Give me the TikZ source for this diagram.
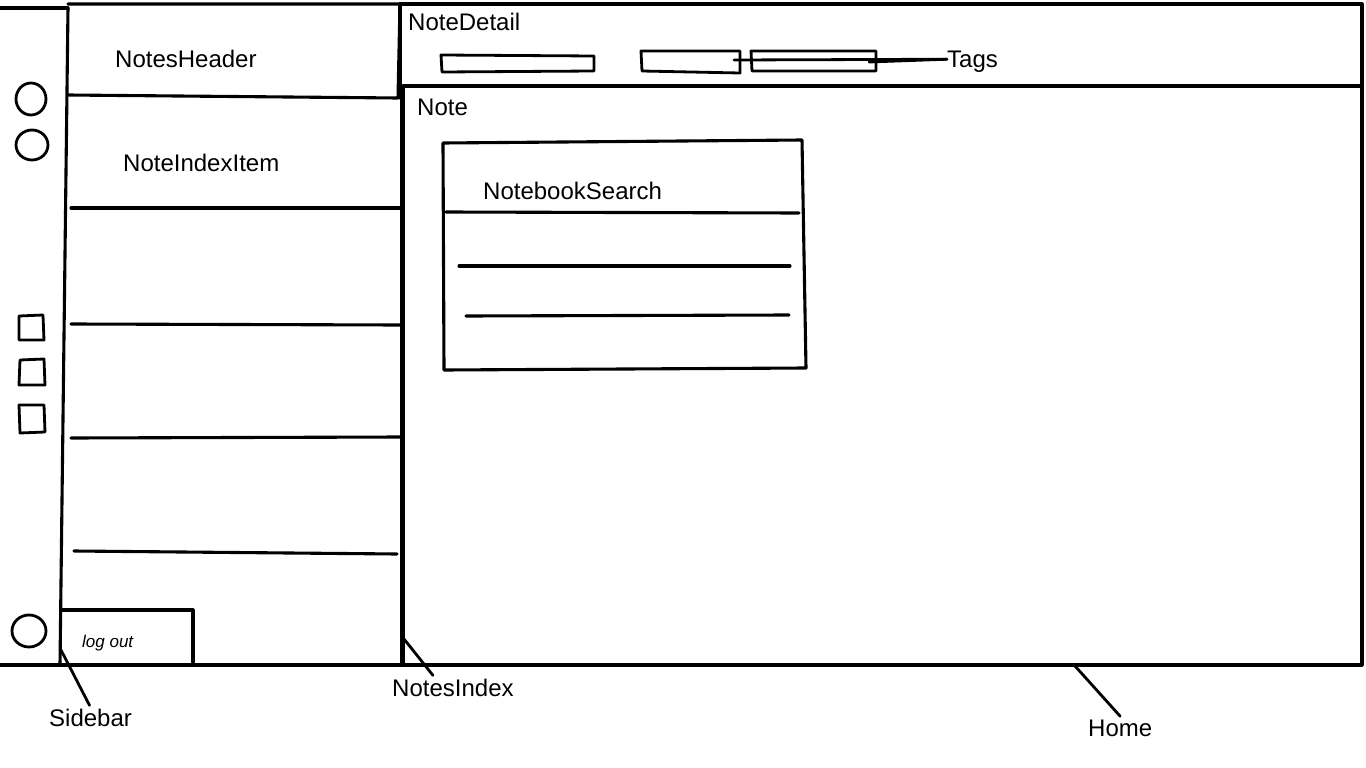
\documentclass[tikz,border=0pt]{standalone}
\usepackage{fontspec}
\setmainfont{Liberation Sans}

\tikzset{
  sketch/.style={line width=3.1pt, line join=round, line cap=round},
  thinsketch/.style={line width=2.8pt, line join=round, line cap=round},
  lbl/.style={anchor=base west, inner sep=0pt, font=\fontsize{24}{28}\selectfont},
}

\begin{document}
\begin{tikzpicture}[x=1pt,y=-1pt]
                \useasboundingbox (0,0) rectangle (1366,768);

                % outer frame (Home)
                \draw[sketch] (0,8) -- (68,8);
                \draw[sketch] (400,4) -- (1362,4) -- (1362,665) -- (0,665);

                % sidebar
                \draw[sketch] (68,8) -- (60,665);
                \draw[thinsketch] (31,99) ellipse[x radius=15, y radius=16];
                \draw[thinsketch] (32,145) ellipse[x radius=16, y radius=15];
                \draw[thinsketch] (19,316) -- (43,315) -- (44,340) -- (19,340) -- cycle;
                \draw[thinsketch] (20,360) -- (44,359) -- (45,385) -- (19,385) -- cycle;
                \draw[thinsketch] (19,405) -- (44,405) -- (45,432) -- (20,433) -- cycle;
                \draw[thinsketch] (29,631) ellipse[x radius=17, y radius=16];
                \draw[sketch] (61,610) -- (193,610) -- (193,662);

                % notes header and index
                \draw[sketch] (68,4) -- (400,4) -- (398,98) -- (68,95);
                \draw[sketch] (402,98) -- (402,665);
                \draw[sketch] (71,208) -- (400,208);
                \draw[sketch] (71,324) -- (400,325);
                \draw[sketch] (71,438) -- (402,437);
                \draw[sketch] (74,551) -- (397,554);

                % note detail
                \draw[sketch] (400,4) -- (400,98);
                \draw[sketch] (403,665) -- (403,86) -- (1362,86);
                \draw[thinsketch] (441,55) -- (594,56) -- (594,71) -- (442,72) -- cycle;
                \draw[thinsketch] (641,51) -- (740,51) -- (740,73) -- (642,71) -- cycle;
                \draw[thinsketch] (751,51) -- (876,51) -- (876,71) -- (752,71) -- cycle;

                % notebook search
                \draw[sketch] (443,143) -- (802,140) -- (806,368) -- (444,370) -- cycle;
                \draw[sketch] (446,212) -- (799,213);
                \draw[sketch] (459,266) -- (790,266);
                \draw[sketch] (466,316) -- (789,315);

                % labels
                \node[lbl] (notedetail) at (408,31) {NoteDetail};
                \node[lbl] (notesheader) at (115,68) {NotesHeader};
                \node[lbl] (tags) at (947,68) {Tags};
                \node[lbl] (note) at (417,115) {Note};
                \node[lbl] (indexitem) at (123,171) {NoteIndexItem};
                \node[lbl] (nbsearch) at (483,199) {NotebookSearch};
                \node[anchor=base west, inner sep=0pt, font=\fontsize{17}{20}\selectfont\itshape] (logout) at (82,647) {log out};
                \node[lbl] (notesindex) at (392,696) {NotesIndex};
                \node[lbl] (sidebar) at (49,726) {Sidebar};
                \node[lbl] (home) at (1088,736) {Home};

                % pointers
                \coordinate (tagA) at (869,62);
                \coordinate (tagB) at (734,60);
                \coordinate (sbEnd) at (61,650);
                \coordinate (niEnd) at (404,639);
                \coordinate (hmEnd) at (1075,666);
                \draw[thinsketch] ([yshift=3pt]tags.west) -- (tagA);
                \draw[thinsketch] ([yshift=3pt]tags.west) -- (tagB);
                \draw[thinsketch] ([xshift=-1pt,yshift=3pt]sidebar.north) -- (sbEnd);
                \draw[thinsketch] ([xshift=41pt,yshift=3pt]notesindex.north west) -- (niEnd);
                \draw[thinsketch] ([yshift=3pt]home.north) -- (hmEnd);
            \end{tikzpicture}
\end{document}
